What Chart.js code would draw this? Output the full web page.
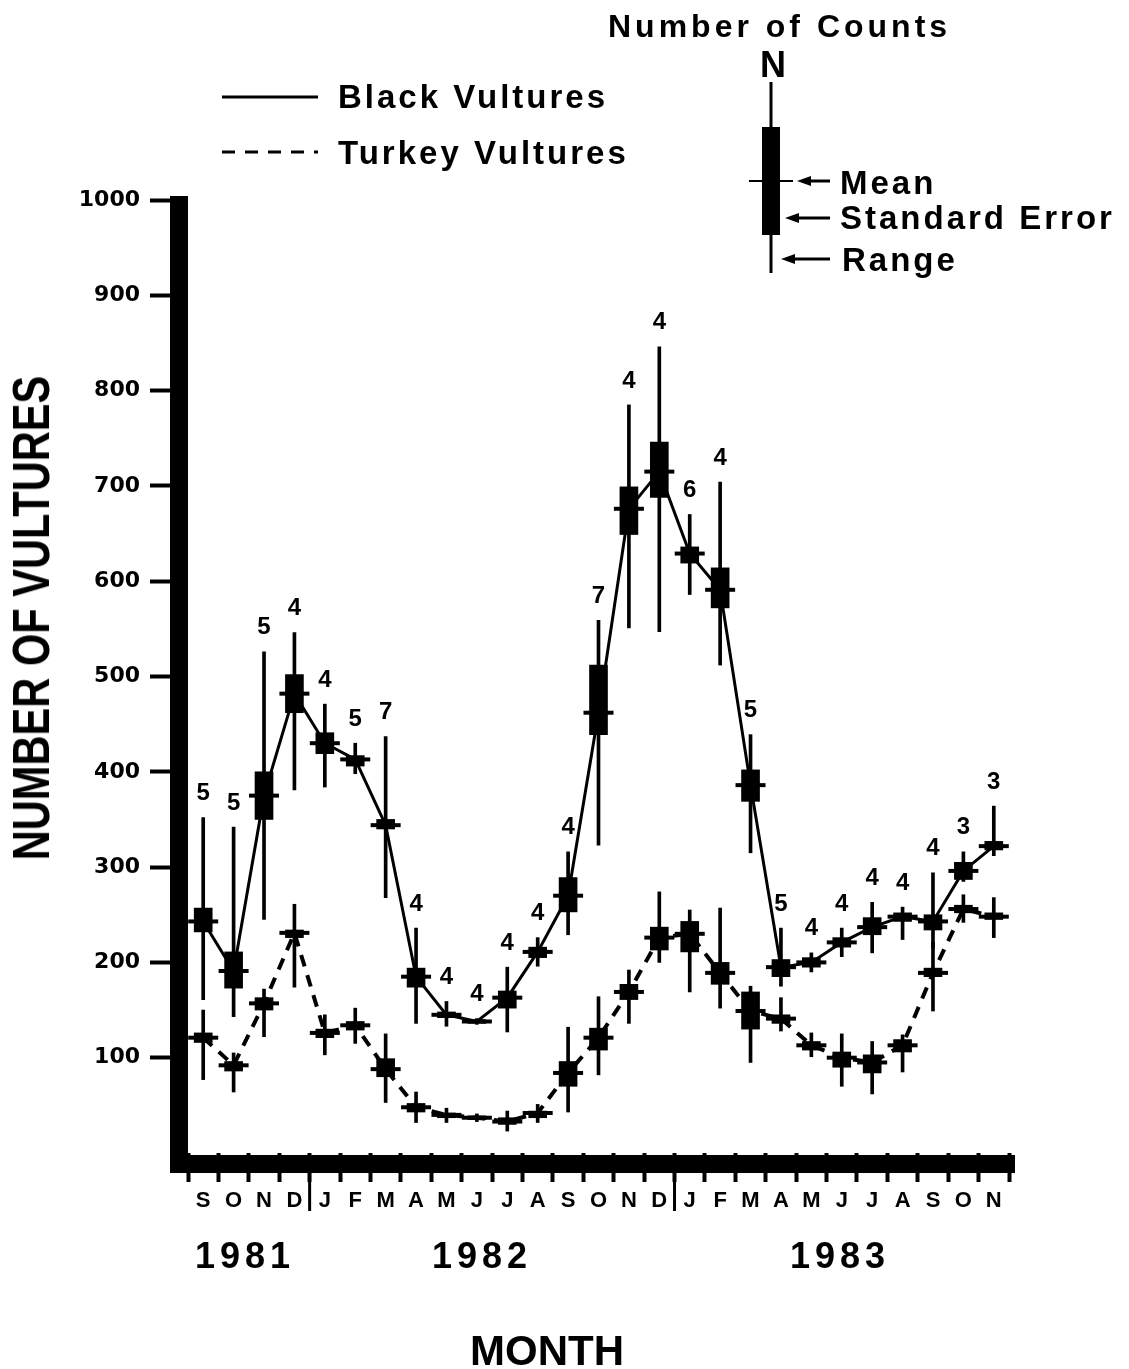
<!DOCTYPE html>
<html>
<head>
<meta charset="utf-8">
<script src="https://cdn.jsdelivr.net/npm/chart.js@4.4.1/dist/chart.umd.min.js"></script>
<style>
  body { margin: 0; background: #fff; }
  #wrap { position: relative; width: 1129px; height: 1369px; }
  #chart { position: absolute; left: 0; top: 0; }
  .t {
    position: absolute;
    font-family: "Liberation Sans", Arial, sans-serif;
    font-weight: bold;
    line-height: 1;
    white-space: nowrap;
    color: #000;
  }
</style>
</head>
<body>
<div id="wrap">
  <canvas id="chart" width="1129" height="1369"></canvas>

  <div class="t" style="left:608px;top:10px;font-size:32px;letter-spacing:4px">Number of Counts</div>
  <div class="t" style="left:760px;top:47px;font-size:36px">N</div>
  <div class="t" style="left:338px;top:80px;font-size:33px;letter-spacing:3px">Black Vultures</div>
  <div class="t" style="left:338px;top:136px;font-size:33px;letter-spacing:3px">Turkey Vultures</div>
  <div class="t" style="left:840px;top:166px;font-size:33px;letter-spacing:3px">Mean</div>
  <div class="t" style="left:840px;top:201px;font-size:33px;letter-spacing:3px">Standard Error</div>
  <div class="t" style="left:842px;top:243px;font-size:33px;letter-spacing:3px">Range</div>

  <div class="t" style="left:195px;top:1238px;font-size:36px;letter-spacing:5px">1981</div>
  <div class="t" style="left:432px;top:1238px;font-size:36px;letter-spacing:5px">1982</div>
  <div class="t" style="left:790px;top:1238px;font-size:36px;letter-spacing:5px">1983</div>
  <div class="t" style="left:470px;top:1330px;font-size:42px">MONTH</div>
  <div class="t" style="left:31px;top:618px;font-size:52px;transform:translate(-50%,-50%) rotate(-90deg) scaleX(0.8)">NUMBER OF VULTURES</div>
</div>

<script>
// months Sep 1981 .. Nov 1983
const months = ["S","O","N","D","J","F","M","A","M","J","J","A","S","O","N","D","J","F","M","A","M","J","J","A","S","O","N"];
// index of the first January of each new year (for the year divider ticks)
const yearBreaks = [4, 16];

// Black Vultures
const blackMean = [243, 191, 375, 482, 430, 413, 344, 185, 145, 138, 163, 211, 270, 462, 676, 715, 629, 591, 386, 195, 200, 221, 237, 248, 243, 296, 322];
const blackSeLo = [232, 173, 350, 462, 419, 406, 340, 174, 142, 136, 152, 205, 253, 439, 649, 688, 619, 572, 369, 185, 195, 216, 229, 243, 234, 287, 318];
const blackSeHi = [257, 211, 400, 502, 441, 417, 350, 194, 148, 140, 170, 216, 289, 512, 699, 746, 636, 614, 402, 203, 205, 226, 247, 252, 250, 305, 327];
const blackRangeLo = [161, 143, 245, 381, 384, 398, 268, 136, 133, 135, 127, 196, 229, 323, 551, 547, 586, 512, 315, 175, 190, 206, 210, 224, 215, 285, 312];
const blackRangeHi = [352, 342, 526, 546, 471, 430, 437, 236, 159, 141, 195, 226, 316, 559, 785, 846, 670, 704, 439, 236, 210, 236, 263, 258, 294, 316, 364];
const blackN = [5, 5, 5, 4, 4, 5, 7, 4, 4, 4, 4, 4, 4, 7, 4, 4, 6, 4, 5, 5, 4, 4, 4, 4, 4, 3, 3];

// Turkey Vultures
const turkeyMean = [121, 92, 157, 231, 126, 134, 88, 48, 40, 37, 33, 42, 84, 121, 169, 226, 230, 189, 149, 141, 113, 100, 95, 113, 189, 256, 248];
const turkeySeLo = [116, 86, 150, 226, 121, 129, 80, 43, 37, 35, 30, 37, 70, 108, 161, 213, 211, 177, 130, 136, 108, 90, 84, 106, 185, 252, 245];
const turkeySeHi = [126, 96, 163, 234, 130, 138, 99, 52, 42, 39, 37, 44, 96, 131, 177, 237, 243, 200, 169, 145, 117, 106, 103, 119, 194, 260, 252];
const turkeyRangeLo = [77, 64, 122, 174, 103, 115, 53, 32, 32, 33, 23, 32, 43, 82, 136, 200, 169, 152, 95, 128, 101, 70, 62, 85, 149, 242, 226];
const turkeyRangeHi = [150, 105, 172, 261, 145, 152, 125, 64, 47, 41, 44, 51, 132, 164, 192, 274, 255, 257, 175, 163, 126, 125, 117, 124, 221, 271, 268];

const yTicks = [100, 200, 300, 400, 500, 600, 700, 800, 900, 1000];

function pairs(lo, hi) {
  return lo.map((v, i) => [v, hi[i]]);
}

// thick L-shaped axis frame and the year dividers under the month axis
const axisFrame = {
  id: "axisFrame",
  afterDraw(chart) {
    const { ctx, chartArea: a, scales } = chart;
    ctx.save();
    ctx.fillStyle = "#000";
    ctx.fillRect(a.left - 18, a.top - 4, 18, a.bottom - a.top + 24);
    ctx.fillRect(a.left - 18, a.bottom + 2, a.right - a.left + 24, 18);
    yearBreaks.forEach((i) => {
      let px = (scales.x.getPixelForValue(i - 1) + scales.x.getPixelForValue(i)) / 2;
      ctx.fillRect(px - 1.5, a.bottom + 18, 3, 40);
    });
    ctx.restore();
  },
};

// number of counts above each black vulture range line
const countLabels = {
  id: "countLabels",
  afterDatasetsDraw(chart) {
    const { ctx, scales } = chart;
    ctx.save();
    ctx.fillStyle = "#000";
    ctx.font = "bold 24px 'Liberation Sans', Arial, sans-serif";
    ctx.textAlign = "center";
    ctx.textBaseline = "middle";
    blackN.forEach((n, i) => {
      let x = scales.x.getPixelForValue(i);
      let y = scales.y.getPixelForValue(blackRangeHi[i]) - 24;
      ctx.fillText(String(n), x, y);
    });
    ctx.restore();
  },
};

// legend: line samples and the box plot key
const legendKey = {
  id: "legendKey",
  afterDraw(chart) {
    const ctx = chart.ctx;
    ctx.save();
    ctx.strokeStyle = "#000";
    ctx.fillStyle = "#000";

    ctx.lineWidth = 3;
    ctx.beginPath();
    ctx.moveTo(222, 97);
    ctx.lineTo(318, 97);
    ctx.stroke();

    ctx.setLineDash([13, 10]);
    ctx.beginPath();
    ctx.moveTo(222, 152);
    ctx.lineTo(318, 152);
    ctx.stroke();
    ctx.setLineDash([]);

    // range line, box, mean tick
    ctx.lineWidth = 3;
    ctx.beginPath();
    ctx.moveTo(771, 82);
    ctx.lineTo(771, 273);
    ctx.stroke();
    ctx.fillRect(762, 127, 18, 108);
    ctx.lineWidth = 2;
    ctx.beginPath();
    ctx.moveTo(749, 181);
    ctx.lineTo(793, 181);
    ctx.stroke();

    // arrows
    [[181, 797], [218, 785], [259, 781]].forEach(([y, x0]) => {
      ctx.lineWidth = 3;
      ctx.beginPath();
      ctx.moveTo(x0 + 10, y);
      ctx.lineTo(830, y);
      ctx.stroke();
      ctx.beginPath();
      ctx.moveTo(x0, y);
      ctx.lineTo(x0 + 14, y - 5);
      ctx.lineTo(x0 + 14, y + 5);
      ctx.closePath();
      ctx.fill();
    });
    ctx.restore();
  },
};

const ctx = document.getElementById("chart");

new Chart(ctx, {
  type: "bar",
  data: {
    labels: months,
    datasets: [
      {
        type: "line",
        label: "Black Vultures",
        data: blackMean,
        borderColor: "#000",
        borderWidth: 3,
        tension: 0,
        pointStyle: "line",
        pointRadius: 15,
        pointBorderWidth: 4,
        pointBorderColor: "#000",
        order: 1,
      },
      {
        type: "line",
        label: "Turkey Vultures",
        data: turkeyMean,
        borderColor: "#000",
        borderWidth: 4,
        borderDash: [12, 9],
        tension: 0,
        pointStyle: "line",
        pointRadius: 15,
        pointBorderWidth: 4,
        pointBorderColor: "#000",
        order: 2,
      },
      {
        label: "Black SE",
        data: pairs(blackSeLo, blackSeHi),
        backgroundColor: "#000",
        barThickness: 18,
        grouped: false,
        order: 3,
      },
      {
        label: "Turkey SE",
        data: pairs(turkeySeLo, turkeySeHi),
        backgroundColor: "#000",
        barThickness: 18,
        grouped: false,
        order: 4,
      },
      {
        label: "Black range",
        data: pairs(blackRangeLo, blackRangeHi),
        backgroundColor: "#000",
        barThickness: 3,
        grouped: false,
        order: 5,
      },
      {
        label: "Turkey range",
        data: pairs(turkeyRangeLo, turkeyRangeHi),
        backgroundColor: "#000",
        barThickness: 3,
        grouped: false,
        order: 6,
      },
    ],
  },
  options: {
    responsive: false,
    animation: false,
    layout: {
      padding: { top: 200, right: 120, left: 0, bottom: 0 },
    },
    plugins: {
      legend: { display: false },
      tooltip: { enabled: false },
    },
    scales: {
      x: {
        offset: true,
        afterFit: (scale) => {
          scale.height = 216;
        },
        border: { display: false },
        grid: {
          offset: true,
          drawOnChartArea: false,
          tickLength: 29,
          tickWidth: 4,
          tickColor: "#000",
        },
        ticks: {
          color: "#000",
          padding: 6,
          maxRotation: 0,
          autoSkip: false,
          font: { family: "'Liberation Sans', Arial, sans-serif", weight: "bold", size: 22 },
        },
      },
      y: {
        min: 0,
        max: 1000,
        afterFit: (scale) => {
          scale.width = 188;
        },
        afterBuildTicks: (scale) => {
          scale.ticks = yTicks.map((v) => ({ value: v }));
        },
        border: { display: false },
        grid: {
          drawOnChartArea: false,
          tickLength: 38,
          tickWidth: 4,
          tickColor: "#000",
        },
        ticks: {
          color: "#000",
          padding: 10,
          callback: (value) => String(value),
          font: { family: "'DejaVu Sans', sans-serif", weight: "bold", size: 22 },
        },
      },
    },
  },
  plugins: [axisFrame, countLabels, legendKey],
});
</script>
</body>
</html>
